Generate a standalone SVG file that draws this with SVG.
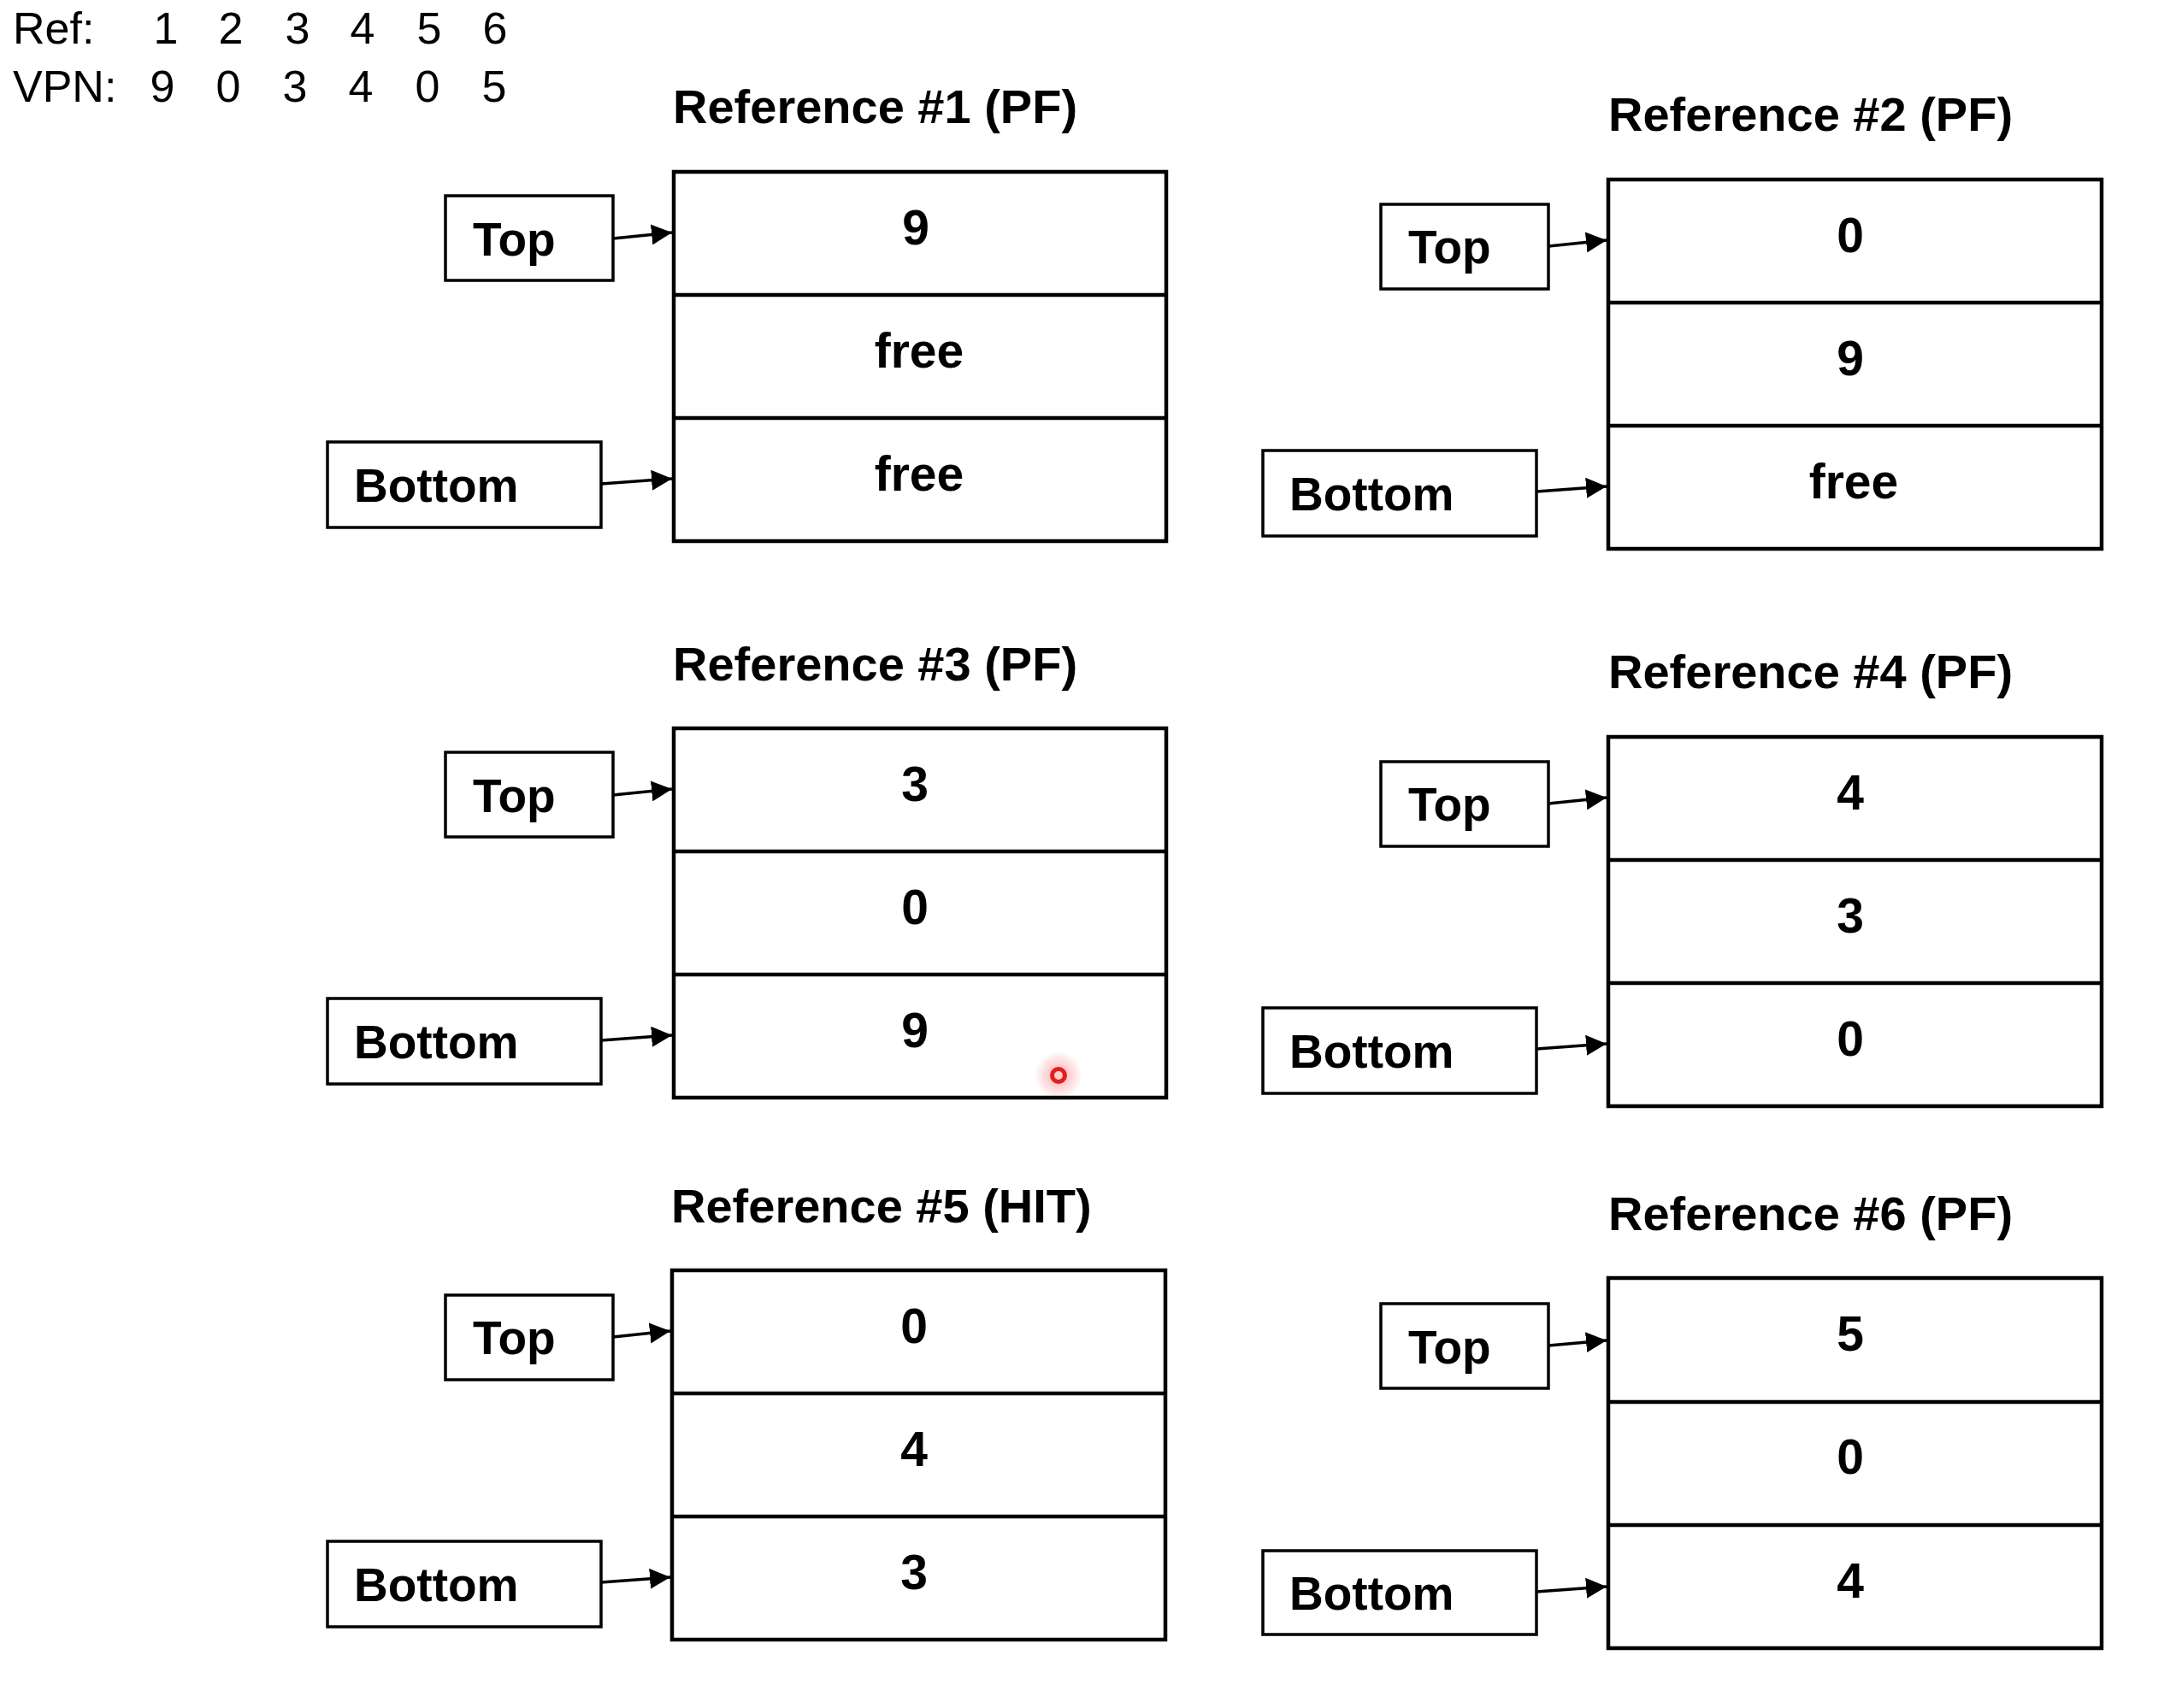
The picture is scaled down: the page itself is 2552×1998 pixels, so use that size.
<svg xmlns="http://www.w3.org/2000/svg" width="2552" height="1998" viewBox="0 0 2552 1998">
<style>
.hdr{font-family:"Liberation Sans",Arial,sans-serif;font-size:52px;fill:#000}
.title{font-family:"Liberation Sans",Arial,sans-serif;font-size:56px;font-weight:bold;fill:#000}
.lbl{font-family:"Liberation Sans",Arial,sans-serif;font-size:55px;font-weight:bold;fill:#000}
.cell{font-family:"Liberation Sans",Arial,sans-serif;font-size:57px;font-weight:bold;fill:#000;text-anchor:middle}
.tbl{fill:#fff;stroke:#000;stroke-width:4.5}
.row{stroke:#000;stroke-width:4.5}
.box{fill:#fff;stroke:#000;stroke-width:3.5}
.arr{stroke:#000;stroke-width:3.5;fill:none;marker-end:url(#ah)}
</style>
<defs>
<marker id="ah" markerUnits="userSpaceOnUse" markerWidth="26" markerHeight="24" refX="24" refY="12" orient="auto">
<path d="M0,0 L24,12 L0,24 z" fill="#000"/>
</marker>
<radialGradient id="glow">
<stop offset="0" stop-color="#ff4040" stop-opacity="0.45"/>
<stop offset="1" stop-color="#ff4040" stop-opacity="0"/>
</radialGradient>
</defs>
<rect width="2552" height="1998" fill="#fff"/>

<g id="header">
<text class="hdr" x="15" y="51">Ref:</text>
<text class="hdr" x="15" y="119">VPN:</text>
<text class="hdr" x="194" y="51" text-anchor="middle">1</text>
<text class="hdr" x="270" y="51" text-anchor="middle">2</text>
<text class="hdr" x="348" y="51" text-anchor="middle">3</text>
<text class="hdr" x="424" y="51" text-anchor="middle">4</text>
<text class="hdr" x="502" y="51" text-anchor="middle">5</text>
<text class="hdr" x="579" y="51" text-anchor="middle">6</text>
<text class="hdr" x="190" y="119" text-anchor="middle">9</text>
<text class="hdr" x="267" y="119" text-anchor="middle">0</text>
<text class="hdr" x="345" y="119" text-anchor="middle">3</text>
<text class="hdr" x="422" y="119" text-anchor="middle">4</text>
<text class="hdr" x="500" y="119" text-anchor="middle">0</text>
<text class="hdr" x="578" y="119" text-anchor="middle">5</text>
</g>

<!-- Panel 1 -->
<g id="ref1">
<text class="title" x="787" y="144">Reference #1 (PF)</text>
<rect class="tbl" x="788" y="201" width="576" height="432"/>
<line class="row" x1="788" y1="345" x2="1364" y2="345"/>
<line class="row" x1="788" y1="489" x2="1364" y2="489"/>
<text class="cell" x="1071" y="286">9</text>
<text class="cell" x="1075" y="430">free</text>
<text class="cell" x="1075" y="574">free</text>
</g>
<g id="ref1-top"><rect class="box" x="521" y="229" width="196" height="99"/><text class="lbl" x="553" y="299">Top</text></g>
<g id="ref1-bottom"><rect class="box" x="383" y="517" width="320" height="100"/><text class="lbl" x="414" y="587">Bottom</text></g>

<!-- Panel 2 -->
<g id="ref2">
<text class="title" x="1881" y="153">Reference #2 (PF)</text>
<rect class="tbl" x="1881" y="210" width="577" height="432"/>
<line class="row" x1="1881" y1="354" x2="2458" y2="354"/>
<line class="row" x1="1881" y1="498" x2="2458" y2="498"/>
<text class="cell" x="2164" y="295">0</text>
<text class="cell" x="2164" y="439">9</text>
<text class="cell" x="2168" y="583">free</text>
</g>
<g id="ref2-top"><rect class="box" x="1615" y="239" width="196" height="99"/><text class="lbl" x="1647" y="308">Top</text></g>
<g id="ref2-bottom"><rect class="box" x="1477" y="527" width="320" height="100"/><text class="lbl" x="1508" y="597">Bottom</text></g>

<!-- Panel 3 -->
<g id="ref3">
<text class="title" x="787" y="796">Reference #3 (PF)</text>
<rect class="tbl" x="788" y="852" width="576" height="432"/>
<line class="row" x1="788" y1="996" x2="1364" y2="996"/>
<line class="row" x1="788" y1="1140" x2="1364" y2="1140"/>
<text class="cell" x="1070" y="937">3</text>
<text class="cell" x="1070" y="1081">0</text>
<text class="cell" x="1070" y="1225">9</text>
</g>
<g id="ref3-top"><rect class="box" x="521" y="880" width="196" height="99"/><text class="lbl" x="553" y="950">Top</text></g>
<g id="ref3-bottom"><rect class="box" x="383" y="1168" width="320" height="100"/><text class="lbl" x="414" y="1238">Bottom</text></g>

<!-- Panel 4 -->
<g id="ref4">
<text class="title" x="1881" y="805">Reference #4 (PF)</text>
<rect class="tbl" x="1881" y="862" width="577" height="432"/>
<line class="row" x1="1881" y1="1006" x2="2458" y2="1006"/>
<line class="row" x1="1881" y1="1150" x2="2458" y2="1150"/>
<text class="cell" x="2164" y="947">4</text>
<text class="cell" x="2164" y="1091">3</text>
<text class="cell" x="2164" y="1235">0</text>
</g>
<g id="ref4-top"><rect class="box" x="1615" y="891" width="196" height="99"/><text class="lbl" x="1647" y="960">Top</text></g>
<g id="ref4-bottom"><rect class="box" x="1477" y="1179" width="320" height="100"/><text class="lbl" x="1508" y="1249">Bottom</text></g>

<!-- Panel 5 -->
<g id="ref5">
<text class="title" x="785" y="1430">Reference #5 (HIT)</text>
<rect class="tbl" x="786" y="1486" width="577" height="432"/>
<line class="row" x1="786" y1="1630" x2="1363" y2="1630"/>
<line class="row" x1="786" y1="1774" x2="1363" y2="1774"/>
<text class="cell" x="1069" y="1571">0</text>
<text class="cell" x="1069" y="1715">4</text>
<text class="cell" x="1069" y="1859">3</text>
</g>
<g id="ref5-top"><rect class="box" x="521" y="1515" width="196" height="99"/><text class="lbl" x="553" y="1584">Top</text></g>
<g id="ref5-bottom"><rect class="box" x="383" y="1803" width="320" height="100"/><text class="lbl" x="414" y="1873">Bottom</text></g>

<!-- Panel 6 -->
<g id="ref6">
<text class="title" x="1881" y="1439">Reference #6 (PF)</text>
<rect class="tbl" x="1881" y="1495" width="577" height="433"/>
<line class="row" x1="1881" y1="1640" x2="2458" y2="1640"/>
<line class="row" x1="1881" y1="1784" x2="2458" y2="1784"/>
<text class="cell" x="2164" y="1580">5</text>
<text class="cell" x="2164" y="1724">0</text>
<text class="cell" x="2164" y="1869">4</text>
</g>
<g id="ref6-top"><rect class="box" x="1615" y="1525" width="196" height="99"/><text class="lbl" x="1647" y="1595">Top</text></g>
<g id="ref6-bottom"><rect class="box" x="1477" y="1814" width="320" height="98"/><text class="lbl" x="1508" y="1883">Bottom</text></g>

<g id="connectors">
<line class="arr" x1="717" y1="279" x2="786" y2="272"/>
<line class="arr" x1="703" y1="566" x2="786" y2="560"/>
<line class="arr" x1="1811" y1="288" x2="1879" y2="281"/>
<line class="arr" x1="1797" y1="575" x2="1879" y2="569"/>
<line class="arr" x1="717" y1="930" x2="786" y2="923"/>
<line class="arr" x1="703" y1="1217" x2="786" y2="1211"/>
<line class="arr" x1="1811" y1="940" x2="1879" y2="933"/>
<line class="arr" x1="1797" y1="1227" x2="1879" y2="1221"/>
<line class="arr" x1="717" y1="1564" x2="784" y2="1557"/>
<line class="arr" x1="703" y1="1851" x2="784" y2="1845"/>
<line class="arr" x1="1811" y1="1574" x2="1879" y2="1568"/>
<line class="arr" x1="1797" y1="1862" x2="1879" y2="1856"/>
</g>

<g id="cursor">
<circle cx="1238" cy="1258" r="28" fill="url(#glow)"/>
<circle cx="1238" cy="1258" r="7.5" fill="#ffd0c8" stroke="#e02020" stroke-width="5"/>
</g>
</svg>
